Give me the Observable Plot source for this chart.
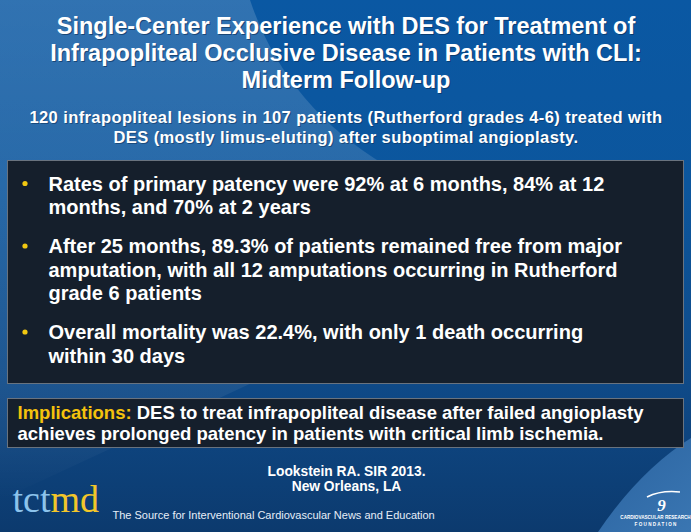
<!DOCTYPE html>
<html><head><meta charset="utf-8">
<script src="https://cdn.jsdelivr.net/npm/d3@7"></script>
<script src="https://cdn.jsdelivr.net/npm/@observablehq/plot@0.6"></script>
<style>
html,body{margin:0;padding:0;background:#0d4a8a;}
#wrap{position:relative;width:691px;height:532px;overflow:hidden;}
#wrap svg{position:absolute;left:0;top:0;}
</style></head><body><div id="wrap"></div>
<script>
// ---- slide content ----
const titleLines = [
  "Single-Center Experience with DES for Treatment of",
  "Infrapopliteal Occlusive Disease in Patients with CLI:",
  "Midterm Follow-up"
];
const subtitleLines = [
  "120 infrapopliteal lesions in 107 patients (Rutherford grades 4-6) treated with",
  "DES (mostly limus-eluting) after suboptimal angioplasty."
];
const bullet1 = ["Rates of primary patency were 92% at 6 months, 84% at 12", "months, and 70% at 2 years"];
const bullet2 = ["After 25 months, 89.3% of patients remained free from major", "amputation, with all 12 amputations occurring in Rutherford", "grade 6 patients"];
const bullet3 = ["Overall mortality was 22.4%, with only 1 death occurring", "within 30 days"];
const implicationLabel = "Implications:";
const implicationLines = ["DES to treat infrapopliteal disease after failed angioplasty", "achieves prolonged patency in patients with critical limb ischemia."];
const citationLines = ["Lookstein RA. SIR 2013.", "New Orleans, LA"];
const logoParts = ["tct", "md"];
const footerText = "The Source for Interventional Cardiovascular News and Education";
const foundationLines = ["CARDIOVASCULAR RESEARCH", "F O U N D A T I O N"];

const W = 691, H = 532;
const SANS = "'Liberation Sans', Arial, sans-serif";
const SERIF = "'Liberation Serif', 'Times New Roman', serif";

const ctx = document.createElement("canvas").getContext("2d");
function measure(text, font) { ctx.font = font; return ctx.measureText(text).width; }

// ---- background (decoration) ----
const bg = d3.create("svg").attr("width", W).attr("height", H);
const defs = bg.append("defs");
const g1 = defs.append("linearGradient").attr("id", "base").attr("x1", 0).attr("y1", 0).attr("x2", 0).attr("y2", 1);
[[0, "#0a58a3"], [0.35, "#0c569d"], [0.72, "#0f4a88"], [1, "#0c3a6e"]].forEach(([o, c]) => g1.append("stop").attr("offset", o).attr("stop-color", c));
const g2 = defs.append("linearGradient").attr("id", "wedge").attr("x1", 0).attr("y1", 0).attr("x2", 0).attr("y2", 1);
[[0, 0.16], [0.5, 0.1], [0.85, 0.05], [1, 0]].forEach(([o, a]) => g2.append("stop").attr("offset", o).attr("stop-color", "#ffffff").attr("stop-opacity", a));
const g3 = defs.append("linearGradient").attr("id", "corner").attr("x1", 0).attr("y1", 0).attr("x2", 1).attr("y2", 1);
[[0, "#2a63a0"], [1, "#3a76b2"]].forEach(([o, c]) => g3.append("stop").attr("offset", o).attr("stop-color", c));
bg.append("rect").attr("width", W).attr("height", H).attr("fill", "url(#base)");
bg.append("path").attr("d", "M0,0 L250,0 Q285,105 385,165 L430,300 L0,500 Z").attr("fill", "url(#wedge)");
bg.append("path").attr("d", "M598,532 Q640,470 691,438 L691,532 Z").attr("fill", "url(#corner)");
// foundation swoosh
bg.append("path").attr("d", "M647,497 Q661,490 680,492").attr("stroke", "#fff").attr("stroke-width", 1.6).attr("fill", "none");
document.getElementById("wrap").appendChild(bg.node());

// ---- layout rows ----
const rows = [];
titleLines.forEach((t, i) => rows.push({kind: "title", text: t, x: 345.5, y: 33 + i * 27}));
subtitleLines.forEach((t, i) => rows.push({kind: "sub", text: t, x: 345.5, y: 122 + i * 20}));
const bullets = [bullet1, bullet2, bullet3];
const bulletDots = [];
let by = 190;
bullets.forEach(b => {
  bulletDots.push({x: 24.5, y: by - 7});
  b.forEach((t, i) => rows.push({kind: "bullet", text: t, x: 48, y: by + i * 23.5}));
  by += b.length * 23.5 + 15.5;
});
const implFont = `bold 18.5px ${SANS}`;
const labelW = measure(implicationLabel + " ", implFont);
rows.push({kind: "label", text: implicationLabel, x: 17, y: 418});
implicationLines.forEach((t, i) => rows.push({kind: "impl", text: t, x: i === 0 ? 17 + labelW : 17, y: 418 + i * 21.5}));
citationLines.forEach((t, i) => rows.push({kind: "cite", text: t, x: 346, y: 475 + i * 15}));
rows.push({kind: "footer", text: footerText, x: 112, y: 518});
const logoFont = `38px ${SERIF}`;
rows.push({kind: "logo1", text: logoParts[0], x: 12, y: 511});
rows.push({kind: "logo2", text: logoParts[1], x: 12 + measure(logoParts[0], logoFont), y: 511});
rows.push({kind: "swirl", text: "9", x: 661, y: 510});
foundationLines.forEach((t, i) => rows.push({kind: "fnd", text: t, x: 655, y: 518 + i * 7}));

const boxes = [
  {x1: 7.5, x2: 683.5, y1: 160.5, y2: 383.5},
  {x1: 7.5, x2: 683.5, y1: 398.5, y2: 447.5}
];

const sel = k => rows.filter(r => r.kind === k);
const txt = (k, o) => Plot.text(sel(k), {x: "x", y: "y", text: "text", lineAnchor: "bottom", fontFamily: SANS, ...o});

const plot = Plot.plot({
  width: W, height: H, margin: 0,
  x: {domain: [0, W], range: [0, W], axis: null},
  y: {domain: [0, H], range: [0, H], axis: null},
  style: {background: "transparent", fontFamily: SANS, overflow: "visible"},
  marks: [
    Plot.rect(boxes, {x1: "x1", x2: "x2", y1: "y1", y2: "y2", fill: "#151f2c", stroke: "#69737f", strokeWidth: 1}),
    txt("title", {textAnchor: "middle", fontSize: 23.5, fontWeight: "bold", fill: "#0a2a50", fillOpacity: 0.6, dx: 1, dy: 1.5}),
    txt("title", {textAnchor: "middle", fontSize: 23.5, fontWeight: "bold", fill: "#ffffff"}),
    txt("sub", {textAnchor: "middle", fontSize: 16.5, fontWeight: "bold", fill: "#0a2a50", fillOpacity: 0.5, dx: 1, dy: 1}),
    txt("sub", {textAnchor: "middle", fontSize: 16.5, fontWeight: "bold", fill: "#ffffff"}),
    Plot.dot(bulletDots, {x: "x", y: "y", r: 2.6, fill: "#f2c811", stroke: null}),
    txt("bullet", {textAnchor: "start", fontSize: 20, fontWeight: "bold", fill: "#ffffff"}),
    txt("label", {textAnchor: "start", fontSize: 18.5, fontWeight: "bold", fill: "#f4c20d"}),
    txt("impl", {textAnchor: "start", fontSize: 18.5, fontWeight: "bold", fill: "#ffffff"}),
    txt("cite", {textAnchor: "middle", fontSize: 13.8, fontWeight: "bold", fill: "#ffffff"}),
    txt("footer", {textAnchor: "start", fontSize: 11, fill: "#e6eef8"}),
    txt("logo1", {textAnchor: "start", fontSize: 38, fontFamily: SERIF, fill: "#8cc3ec"}),
    txt("logo2", {textAnchor: "start", fontSize: 38, fontFamily: SERIF, fill: "#f2c62a"}),
    txt("swirl", {textAnchor: "middle", fontSize: 17, fontFamily: SERIF, fontStyle: "italic", fontWeight: "bold", fill: "#ffffff"}),
    txt("fnd", {textAnchor: "middle", fontSize: 4.6, fontWeight: "bold", fill: "#ffffff"})
  ]
});
// slightly widen the subtitle tracking, as on the slide
d3.select(plot).selectAll("text").filter(function() { return subtitleLines.includes(this.textContent); }).attr("letter-spacing", "0.4px");
document.getElementById("wrap").appendChild(plot);
</script></body></html>
